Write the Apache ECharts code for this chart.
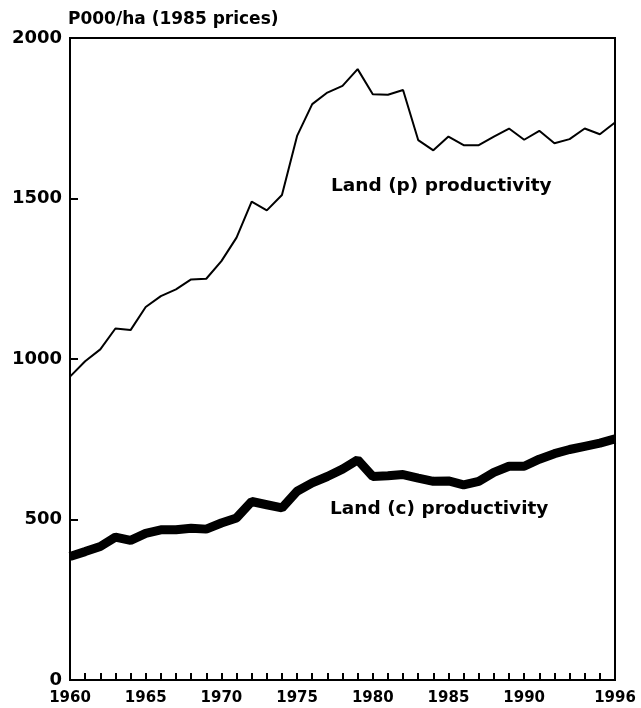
<!DOCTYPE html>
<html>
<head>
<meta charset="utf-8">
<script src="https://cdn.jsdelivr.net/npm/echarts@6/dist/echarts.min.js"></script>
<style>
html,body{margin:0;padding:0;background:#fff;}
#chart{width:641px;height:708px;}
</style>
</head>
<body>
<div id="chart"></div>
<script>
// years on the x axis
var years = [1960,1961,1962,1963,1964,1965,1966,1967,1968,1969,1970,1971,1972,1973,1974,1975,1976,1977,1978,
    1979,1980,1981,1982,1983,1984,1985,1986,1987,1988,1989,1990,1991,1992,1993,1994,1995,1996];
// Land (p) productivity, P000/ha
var landP = [945,993,1030,1095,1090,1162,1196,1217,1248,1250,1305,1378,1490,1463,1511,1695,1794,1830,1851,
    1903,1825,1823,1838,1682,1650,1693,1666,1666,1693,1718,1683,1711,1672,1685,1718,1700,1737];
// Land (c) productivity, P000/ha
var landC = [385,400,416,445,435,457,468,468,473,470,489,505,556,546,536,588,614,634,657,
    686,634,636,640,629,619,620,608,619,647,666,666,688,705,718,728,738,751];
var yTicks = [0,500,1000,1500,2000];
var labelYears = [1960,1965,1970,1975,1980,1985,1990,1996];

var chart = echarts.init(document.getElementById('chart'));
var font = 'DejaVu Sans, Verdana, sans-serif';

function pairs(vals){
    return years.map(function(y,i){ return [y, vals[i]]; });
}

var option = {
    backgroundColor: '#fff',
    animation: false,
    title: {
        text: 'P000/ha (1985 prices)',
        left: 63,
        top: 6,
        textStyle: { fontFamily: font, fontSize: 17, fontWeight: 'bold', color: '#000' }
    },
    grid: {
        left: 70, right: 26, top: 38, bottom: 28,
        show: true, borderColor: '#000', borderWidth: 2
    },
    xAxis: {
        type: 'value',
        min: 1960, max: 1996, interval: 1,
        splitLine: { show: false },
        axisLine: { lineStyle: { color: '#000', width: 2 } },
        axisTick: { inside: true, length: 7, lineStyle: { color: '#000', width: 2 } },
        axisLabel: {
            color: '#000', fontFamily: font, fontSize: 15, fontWeight: 'bold', margin: 11,
            formatter: function(v){ return labelYears.indexOf(v) >= 0 ? String(v) : ''; }
        }
    },
    yAxis: {
        type: 'value',
        min: 0, max: 2000, interval: 500,
        splitLine: { show: false },
        axisLine: { show: true, lineStyle: { color: '#000', width: 2 } },
        axisTick: { show: true, inside: true, length: 8, lineStyle: { color: '#000', width: 2 } },
        axisLabel: {
            color: '#000', fontFamily: font, fontSize: 18, fontWeight: 'bold', margin: 8,
            formatter: function(v){ return yTicks.indexOf(v) >= 0 ? String(v) : ''; }
        }
    },
    graphic: [
        { type: 'text', left: 331, top: 177,
          style: { text: 'Land (p) productivity', font: 'bold 18.5px ' + font, fill: '#000' } },
        { type: 'text', left: 330, top: 500,
          style: { text: 'Land (c) productivity', font: 'bold 18.5px ' + font, fill: '#000' } }
    ],
    series: [
        {
            name: 'Land (p) productivity', type: 'line', data: pairs(landP),
            showSymbol: false, lineStyle: { color: '#000', width: 2 }
        },
        {
            name: 'Land (c) productivity', type: 'line', data: pairs(landC),
            showSymbol: false, lineStyle: { color: '#000', width: 9 }
        }
    ]
};
chart.setOption(option);
</script>
</body>
</html>
